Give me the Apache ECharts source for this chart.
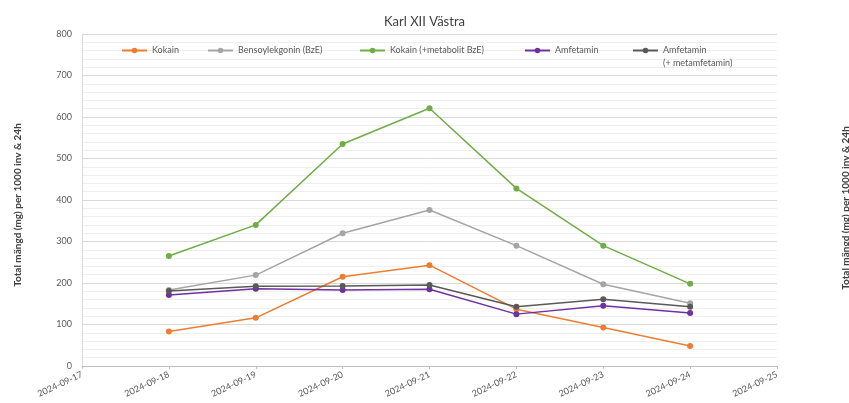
<!DOCTYPE html>
<html><head><meta charset="utf-8">
<script src="https://cdn.jsdelivr.net/npm/echarts@6/dist/echarts.min.js"></script>
<style>html,body{margin:0;padding:0;background:#fff}#c{width:849px;height:403px}</style>
</head><body><div id="c"></div>
<script>
const title = 'Karl XII Västra';
const yAxisName = 'Total mängd (mg) per 1000 inv & 24h';
const categories = ['2024-09-17','2024-09-18','2024-09-19','2024-09-20','2024-09-21','2024-09-22','2024-09-23','2024-09-24','2024-09-25'];
const seriesNames = ['Kokain','Bensoylekgonin (BzE)','Kokain (+metabolit BzE)','Amfetamin','Amfetamin\n(+ metamfetamin)'];
const kokain      = [null, 83, 116, 215, 243, 137, 93, 48, null];
const bze         = [null, 183, 219, 320, 376, 290, 197, 151, null];
const kokainMet   = [null, 265, 340, 535, 621, 428, 290, 198, null];
const amfetamin   = [null, 171, 186, 183, 185, 125, 145, 128, null];
const amfMet      = [null, 181, 192, 193, 195, 143, 161, 143, null];
const yTicks = [0, 800, 100];

const colors = ['#ED7D31','#A5A5A5','#70AD47','#7030A0','#595959'];
const values = [kokain, bze, kokainMet, amfetamin, amfMet];
const legendLeft = [121, 207, 359, 524, 632];
const font = 'Lato, "Open Sans", sans-serif';

const chart = echarts.init(document.getElementById('c'), null, {renderer:'canvas'});
chart.setOption({
  animation: false,
  color: colors,
  title: {text: title, left: 'center', top: 10, textStyle: {fontSize: 13, fontWeight: 'normal', color: '#404040', fontFamily: font}},
  legend: seriesNames.map((n, i) => ({
    data: [n], left: legendLeft[i], top: i === 4 ? 31 : 44, itemWidth: 25, itemHeight: 7, itemGap: 0,
    formatter: i === 4 ? (name => '\n' + name) : '{name}',
    textStyle: {fontSize: 9, color: '#595959', fontFamily: font, lineHeight: 13},
    padding: [0,0,0,0]
  })),
  grid: {left: 82, right: 72, top: 34, bottom: 37},
  xAxis: {
    type: 'category', data: categories, boundaryGap: false,
    axisLine: {lineStyle: {color: '#bfbfbf'}},
    axisTick: {show: true, length: 3, lineStyle: {color: '#bfbfbf'}},
    axisLabel: {rotate: 25, fontSize: 9, color: '#595959', fontFamily: font, margin: 8},
    splitLine: {show: false}
  },
  yAxis: {
    type: 'value', min: yTicks[0], max: yTicks[1], interval: yTicks[2],
    axisLine: {show: true, lineStyle: {color: '#d9d9d9'}},
    axisTick: {show: false},
    axisLabel: {fontSize: 9, color: '#595959', fontFamily: font, margin: 10},
    splitLine: {lineStyle: {color: '#d9d9d9'}},
    minorTick: {show: false, splitNumber: 5},
    minorSplitLine: {show: true, lineStyle: {color: '#efefef'}}
  },
  series: seriesNames.map((n, i) => ({
    name: n, type: 'line', data: values[i], symbol: 'circle', symbolSize: 6,
    lineStyle: {width: 1.5, color: colors[i]}, itemStyle: {color: colors[i]},
    connectNulls: false, z: 2 + i
  })),
  graphic: [{
    type: 'text', x: 18, y: 205, rotation: Math.PI/2,
    style: {text: yAxisName, fontSize: 10, fontWeight: 'bold', fill: '#404040', fontFamily: font, textAlign: 'center', textVerticalAlign: 'middle'}
  }, {
    type: 'text', x: 846, y: 208, rotation: Math.PI/2,
    style: {text: yAxisName, fontSize: 10, fontWeight: 'bold', fill: '#404040', fontFamily: font, textAlign: 'center', textVerticalAlign: 'middle'}
  }]
});
</script></body></html>
